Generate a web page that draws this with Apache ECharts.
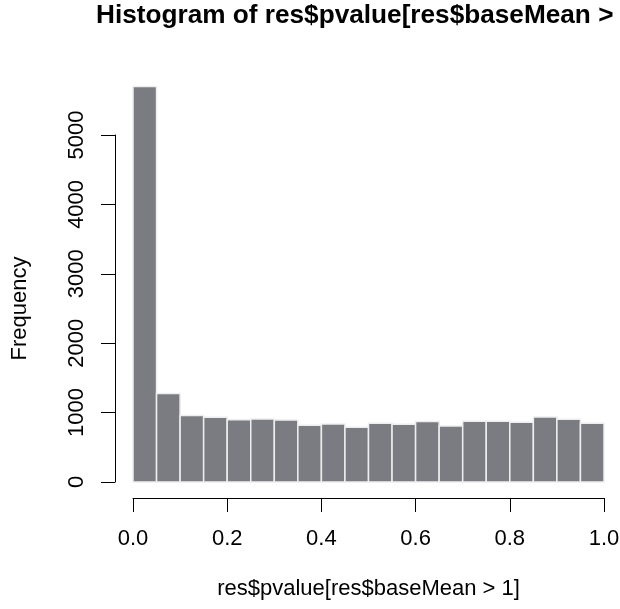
<!DOCTYPE html>
<html>
<head>
<meta charset="utf-8">
<script src="https://cdn.jsdelivr.net/npm/echarts@6/dist/echarts.min.js"></script>
<style>
html,body{margin:0;padding:0;background:#fff;}
#chart{width:620px;height:609px;}
</style>
</head>
<body>
<div id="chart"></div>
<script>
// Histogram bin edges (left and right) and counts
var binLeft  = [0.00,0.05,0.10,0.15,0.20,0.25,0.30,0.35,0.40,0.45,0.50,0.55,0.60,0.65,0.70,0.75,0.80,0.85,0.90,0.95];
var binRight = [0.05,0.10,0.15,0.20,0.25,0.30,0.35,0.40,0.45,0.50,0.55,0.60,0.65,0.70,0.75,0.80,0.85,0.90,0.95,1.00];
var counts   = [5700,1275,958,933,897,909,894,818,836,789,847,832,871,808,875,875,861,937,904,847];
var xTicks = [0.0,0.2,0.4,0.6,0.8,1.0];
var yTicks = [0,1000,2000,3000,4000,5000];
var titleText = 'Histogram of res$pvalue[res$baseMean > 1]';
var xName = 'res$pvalue[res$baseMean > 1]';
var yName = 'Frequency';

var FONT = "'Liberation Sans', Arial, Helvetica, sans-serif";
var data = binLeft.map(function(l, i){ return [l, binRight[i], counts[i]]; });

var chart = echarts.init(document.getElementById('chart'), null, {renderer:'canvas'});
chart.setOption({
  animation: false,
  backgroundColor: '#ffffff',
  title: {
    text: titleText,
    left: 370,
    top: 3,
    textAlign: 'center',
    padding: 0,
    textStyle: {fontFamily: FONT, fontSize: 26.2, fontWeight: 'bold', color: '#000'}
  },
  grid: {left: 133, right: 16, top: 135, bottom: 127, containLabel: false, outerBoundsMode: 'none'},
  xAxis: {
    type: 'value',
    min: xTicks[0], max: xTicks[xTicks.length-1], interval: 0.2,
    offset: 16,
    name: xName,
    nameLocation: 'middle',
    nameGap: 80,
    nameTextStyle: {fontFamily: FONT, fontSize: 22, color: '#000'},
    axisLine: {show: true, onZero: false, lineStyle: {color: '#000', width: 1}},
    axisTick: {show: true, length: 14, lineStyle: {color: '#000', width: 1}},
    axisLabel: {show: true, margin: 30, fontFamily: FONT, fontSize: 22, color: '#000',
      hideOverlap: false, showMinLabel: true, showMaxLabel: true,
      formatter: function(v){ return v.toFixed(1); }},
    splitLine: {show: false}
  },
  yAxis: {
    type: 'value',
    min: yTicks[0], max: yTicks[yTicks.length-1], interval: 1000,
    offset: 18,
    name: yName,
    nameLocation: 'middle',
    nameGap: 84,
    nameTextStyle: {fontFamily: FONT, fontSize: 22, color: '#000'},
    axisLine: {show: true, onZero: false, lineStyle: {color: '#000', width: 1}},
    axisTick: {show: true, length: 14, lineStyle: {color: '#000', width: 1}},
    axisLabel: {show: true, margin: 27, rotate: 90, fontFamily: FONT, fontSize: 22, color: '#000',
      hideOverlap: false, showMinLabel: true, showMaxLabel: true,
      formatter: function(v){ return String(v); }},
    splitLine: {show: false}
  },
  series: [{
    type: 'custom',
    clip: false,
    data: data,
    encode: {x: [0, 1], y: 2},
    renderItem: function(params, api){
      var p0 = api.coord([api.value(0), api.value(2)]);
      var p1 = api.coord([api.value(1), 0]);
      return {
        type: 'rect',
        shape: {x: p0[0], y: p0[1], width: p1[0] - p0[0], height: p1[1] - p0[1]},
        style: {fill: '#7b7c81', stroke: '#eeeeee', lineWidth: 1.5}
      };
    }
  }]
});
</script>
</body>
</html>
